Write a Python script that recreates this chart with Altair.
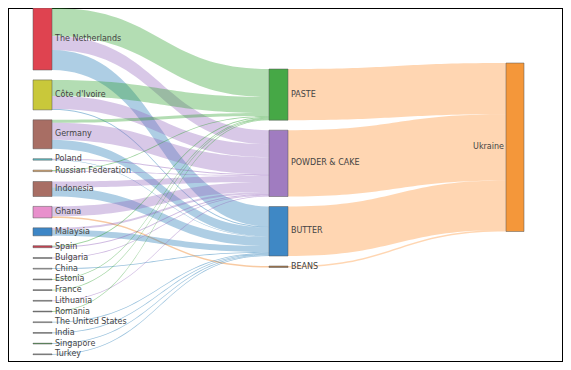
import altair as alt
import pandas as pd
import numpy as np

# ---------------- data ----------------
countries = ["The Netherlands", "Côte d'Ivoire", "Germany", "Poland", "Russian Federation",
             "Indonesia", "Ghana", "Malaysia", "Spain", "Bulgaria", "China", "Estonia",
             "France", "Lithuania", "Romania", "The United States", "India", "Singapore", "Turkey"]
country_colors = ["#df4350", "#c9c83a", "#a86e64", "#5cc0c8", "#e0a868",
                  "#a86e64", "#e890cc", "#3d86c6", "#c84050", "#707070", "#a8a8a8", "#808080",
                  "#787878", "#888888", "#707070", "#a0a0a0", "#808080", "#3a9a3a", "#808080"]
products = ["PASTE", "POWDER & CAKE", "BUTTER", "BEANS"]
product_colors = ["#46a846", "#a07cc0", "#3f88c5", "#a8784a"]
link_colors = ["#2ca02c", "#9467bd", "#1f77b4", "#f08a30"]
destination = "Ukraine"
destination_color = "#f4973a"

to_paste  = [28, 16, 3, 0,   0.8, 0, 0,   0, 1, 0,   0,   0.8, 0.8, 0,   0.8, 0,   0,   0,   0]
to_powder = [14, 13, 17, 1,  0.7, 6, 10,  2, 1, 0.8, 0,   0,   0,   0.8, 0,   0,   0,   0,   0]
to_butter = [20, 1, 9, 0.5,  0,   9, 0,   6, 0, 0,   0.8, 0,   0,   0,   0,   0.8, 0.8, 0.8, 0.8]
to_beans  = [0,  0, 0, 0,    0,   0, 1.5, 0, 0, 0,   0,   0,   0,   0,   0,   0,   0,   0,   0]

# ---------------- layout (sankey) ----------------
flows = np.array([to_paste, to_powder, to_butter, to_beans]).T  # country x product
c_tot = flows.sum(axis=1)
p_tot = flows.sum(axis=0)
d_tot = p_tot.sum()

PAD = 9.9
col_x = [(33, 52), (269, 288), (506, 524)]

def stack(values, top, pad):
    ys = []
    y = top
    for v in values:
        ys.append((y, y + v))
        y += v + pad
    return ys

c_pos = stack(c_tot, 8, PAD)
p_pos = stack(p_tot, 69, 10)
d_pos = stack([d_tot], 63, 0)

nodes = []
for i, n in enumerate(countries):
    nodes.append(dict(name=n, x0=col_x[0][0], x1=col_x[0][1], y0=c_pos[i][0], y1=c_pos[i][1],
                      color=country_colors[i], lx=col_x[0][1] + 3, align="left"))
for j, n in enumerate(products):
    nodes.append(dict(name=n, x0=col_x[1][0], x1=col_x[1][1], y0=p_pos[j][0], y1=p_pos[j][1],
                      color=product_colors[j], lx=col_x[1][1] + 3, align="left"))
nodes.append(dict(name=destination, x0=col_x[2][0], x1=col_x[2][1], y0=d_pos[0][0], y1=d_pos[0][1],
                  color=destination_color, lx=col_x[2][0] - 2, align="right"))
nodes_df = pd.DataFrame(nodes)
nodes_df["ly"] = (nodes_df.y0 + nodes_df.y1) / 2

def band(lid, xa, xb, ya0, ya1, yb0, yb1, color, op):
    rows = []
    for t in np.linspace(0, 1, 41):
        xm = (xa + xb) / 2
        x = (1 - t) ** 3 * xa + 3 * (1 - t) * t * xm + t ** 3 * xb
        s = 3 * t ** 2 - 2 * t ** 3
        rows.append(dict(id=lid, x=x, top=ya0 + (yb0 - ya0) * s, bot=ya1 + (yb1 - ya1) * s,
                         color=color, op=op))
    return rows

rows = []
src_cur = [p[0] for p in c_pos]
tgt_cur = [p[0] for p in p_pos]
links = []
for i in range(len(countries)):
    for j in range(len(products)):
        v = flows[i, j]
        if v > 0:
            links.append((i, j, v))
src_y = {}
for i in range(len(countries)):
    for (a, b, v) in sorted([l for l in links if l[0] == i], key=lambda l: l[1]):
        src_y[(a, b)] = (src_cur[i], src_cur[i] + v)
        src_cur[i] += v
tgt_y = {}
for j in range(len(products)):
    for (a, b, v) in sorted([l for l in links if l[1] == j], key=lambda l: l[0]):
        tgt_y[(a, b)] = (tgt_cur[j], tgt_cur[j] + v)
        tgt_cur[j] += v
for k, (a, b, v) in enumerate(links):
    op = 0.36 if v >= 2 else 0.45
    rows += band(f"c{k}", col_x[0][1], col_x[1][0], *src_y[(a, b)], *tgt_y[(a, b)],
                 link_colors[b], op)
cur = d_pos[0][0]
for j in range(len(products)):
    v = p_tot[j]
    rows += band(f"p{j}", col_x[1][1], col_x[2][0], p_pos[j][0], p_pos[j][1], cur, cur + v,
                 "#ff7f0e", 0.32)
    cur += v
links_df = pd.DataFrame(rows)

# ---------------- chart ----------------
W, H = 555, 354
xs = alt.Scale(domain=[8, 8 + W], nice=False, zero=False)
ys = alt.Scale(domain=[8, 8 + H], nice=False, zero=False, reverse=True)

link_layer = alt.Chart(links_df).mark_area(strokeWidth=0).encode(
    x=alt.X("x:Q", scale=xs, axis=None),
    y=alt.Y("top:Q", scale=ys, axis=None, stack=None),
    y2="bot:Q",
    detail="id:N",
    color=alt.Color("color:N", scale=None),
    opacity=alt.Opacity("op:Q", scale=None),
)

node_layer = alt.Chart(nodes_df).mark_rect(stroke="#555555", strokeWidth=0.5).encode(
    x=alt.X("x0:Q", scale=xs, axis=None), x2="x1:Q",
    y=alt.Y("y0:Q", scale=ys, axis=None), y2="y1:Q",
    color=alt.Color("color:N", scale=None),
)

text_base = alt.Chart(nodes_df)
label_left = text_base.transform_filter(alt.datum.align == "left").mark_text(
    align="left", baseline="middle", font="DejaVu Sans", fontSize=8, color="#444444"
).encode(x=alt.X("lx:Q", scale=xs, axis=None), y=alt.Y("ly:Q", scale=ys, axis=None), text="name:N")
label_right = text_base.transform_filter(alt.datum.align == "right").mark_text(
    align="right", baseline="middle", font="DejaVu Sans", fontSize=8, color="#444444"
).encode(x=alt.X("lx:Q", scale=xs, axis=None), y=alt.Y("ly:Q", scale=ys, axis=None), text="name:N")

chart = alt.layer(link_layer, node_layer, label_left, label_right).properties(
    width=W, height=H, padding=0, autosize=alt.AutoSizeParams(type="none"),
    background="white",
).configure_view(stroke="black", strokeWidth=2)

chart.save("out.html", embed_options={"renderer": "svg", "actions": False})
